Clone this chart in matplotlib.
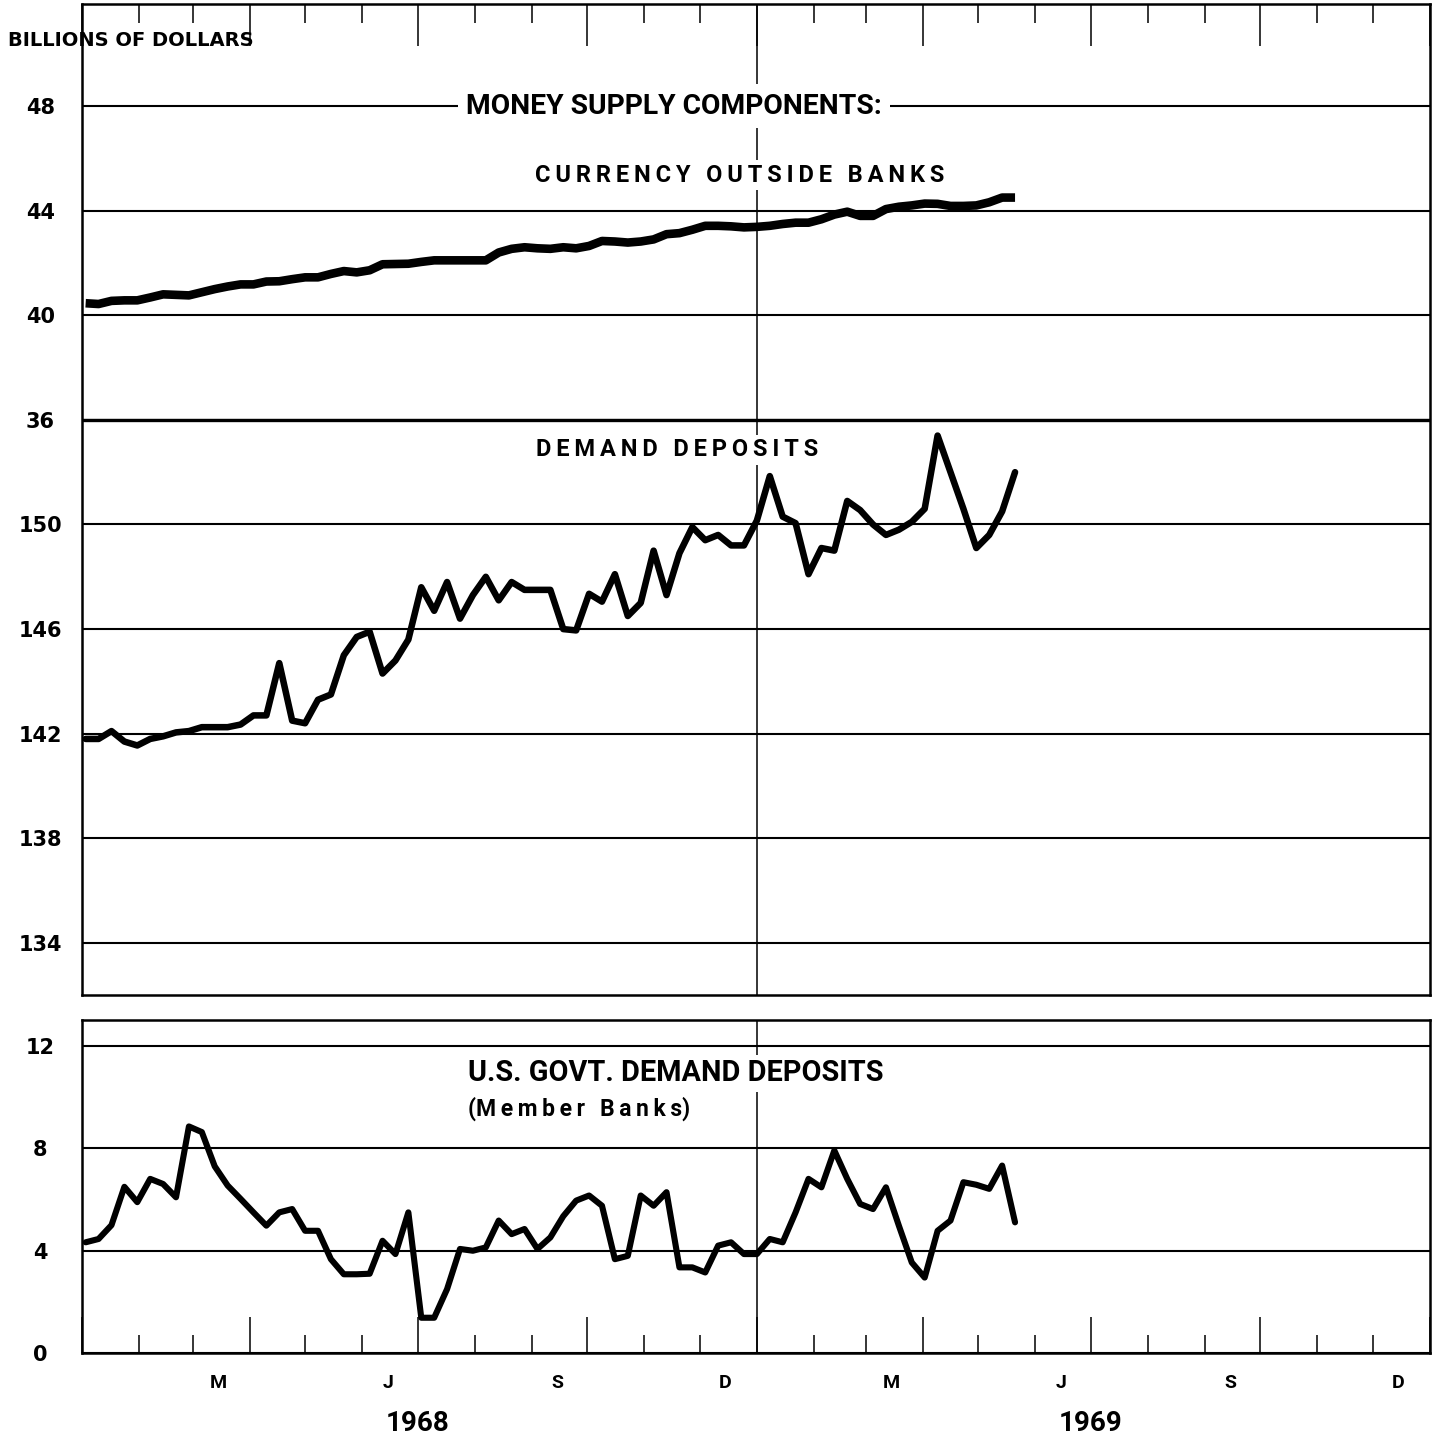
import matplotlib
matplotlib.use("Agg")
import matplotlib.pyplot as plt
import matplotlib.dates as mdates
import pandas as pd

# weekly averages, billions of dollars (first week of Jan 1968 to May 1969)
weeks = pd.date_range("1968-01-03", periods=73, freq="7D")

currency = [40.46, 40.43, 40.55, 40.57, 40.57, 40.68, 40.80, 40.78, 40.76, 40.88,
            41.00, 41.10, 41.18, 41.18, 41.29, 41.30, 41.38, 41.45, 41.45, 41.58,
            41.69, 41.64, 41.72, 41.95, 41.96, 41.97, 42.04, 42.10, 42.10, 42.10,
            42.10, 42.10, 42.40, 42.54, 42.60, 42.56, 42.54, 42.60, 42.56, 42.65,
            42.84, 42.82, 42.78, 42.82, 42.90, 43.10, 43.14, 43.27, 43.42, 43.42,
            43.40, 43.36, 43.38, 43.42, 43.49, 43.54, 43.54, 43.67, 43.85, 43.96,
            43.80, 43.80, 44.06, 44.15, 44.20, 44.27, 44.26, 44.18, 44.18, 44.20,
            44.32, 44.50, 44.50]

demand = [141.8, 141.8, 142.1, 141.7, 141.55, 141.8, 141.9, 142.05, 142.1, 142.25,
          142.25, 142.25, 142.35, 142.7, 142.7, 144.7, 142.5, 142.4, 143.3, 143.5,
          145.0, 145.7, 145.9, 144.3, 144.8, 145.6, 147.6, 146.7, 147.8, 146.4,
          147.3, 148.0, 147.1, 147.8, 147.5, 147.5, 147.5, 146.0, 145.95, 147.35,
          147.05, 148.1, 146.5, 147.0, 149.0, 147.3, 148.9, 149.9, 149.4, 149.6,
          149.2, 149.2, 150.15, 151.85, 150.3, 150.05, 148.1, 149.1, 149.0, 150.9,
          150.55, 150.0, 149.6, 149.8, 150.1, 150.6, 153.4, 152.0, 150.6, 149.1,
          149.6, 150.5, 152.0]

govt = [4.33, 4.46, 5.00, 6.50, 5.90, 6.81, 6.61, 6.09, 8.86, 8.64,
        7.30, 6.55, 6.03, 5.50, 4.98, 5.50, 5.63, 4.78, 4.78, 3.67,
        3.08, 3.08, 3.10, 4.39, 3.87, 5.50, 1.38, 1.38, 2.50, 4.07,
        4.00, 4.13, 5.18, 4.65, 4.85, 4.07, 4.52, 5.35, 5.96, 6.16,
        5.76, 3.67, 3.80, 6.16, 5.76, 6.29, 3.35, 3.35, 3.15, 4.20,
        4.33, 3.87, 3.87, 4.46, 4.33, 5.50, 6.81, 6.48, 7.92, 6.81,
        5.83, 5.63, 6.48, 4.98, 3.54, 2.95, 4.78, 5.18, 6.68, 6.58,
        6.42, 7.33, 5.11]

# upper panel: demand deposits drawn on the currency scale, shifted by 118
shift = 118
upper_ticks = [48, 44, 40, 36, 32, 28, 24, 20, 16]
upper_labels = ["48", "44", "40", "36", "150", "146", "142", "138", "134"]
lower_ticks = [12, 8, 4, 0]
lower_labels = ["12", "8", "4", "0"]

month_letters = ["M", "J", "S", "D", "M", "J", "S", "D"]
month_dates = pd.to_datetime(["1968-03-15", "1968-06-15", "1968-09-15", "1968-12-15",
                              "1969-03-15", "1969-06-15", "1969-09-15", "1969-12-15"])
years = ["1968", "1969"]
year_dates = pd.to_datetime(["1968-07-01", "1969-07-01"])

head = ["Roboto", "DejaVu Sans"]


def spaced(s):
    # letter-spaced caption: thin space between letters, wider gap between words
    return "\u2009 \u2009".join("\u2009".join(w) for w in s.split(" "))


fig = plt.figure(figsize=(14.38, 14.42), dpi=100)
ax1 = fig.add_axes([0.0570, 0.3100, 0.9374, 0.6872])
ax2 = fig.add_axes([0.0570, 0.0617, 0.9374, 0.2309])

x0 = pd.Timestamp("1968-01-01")
x1 = pd.Timestamp("1970-01-01")
split = pd.Timestamp("1969-01-01")

for ax in (ax1, ax2):
    ax.set_xlim(x0, x1)
    ax.xaxis.set_major_locator(mdates.MonthLocator(bymonth=[1, 4, 7, 10]))
    ax.xaxis.set_minor_locator(mdates.MonthLocator())
    ax.grid(axis="y", color="black", linewidth=1.5)
    ax.set_axisbelow(True)
    for s in ax.spines.values():
        s.set_linewidth(1.8)
    ax.axvline(split, color="black", linewidth=1.1, zorder=1)
    ax.tick_params(axis="y", length=0, pad=30, labelsize=15)

ax1.set_ylim(14.01, 51.9)
ax1.set_yticks(upper_ticks, upper_labels)
ax1.tick_params(axis="x", which="both", top=True, bottom=False, direction="in",
                labelbottom=False, width=1.1)
ax1.tick_params(axis="x", which="major", length=30)
ax1.tick_params(axis="x", which="minor", length=14)
ax1.axhline(36, color="black", linewidth=2.4, zorder=1)

ax2.set_ylim(0, 13.02)
ax2.set_yticks(lower_ticks, lower_labels)
ax2.tick_params(axis="x", which="both", top=False, bottom=True, direction="in",
                labelbottom=False, width=1.1)
ax2.tick_params(axis="x", which="major", length=26)
ax2.tick_params(axis="x", which="minor", length=13)

for ax in (ax1, ax2):
    for lbl in ax.get_yticklabels():
        lbl.set_horizontalalignment("center")
        lbl.set_fontweight("bold")

ax1.plot(weeks, currency, color="black", linewidth=6.2,
         solid_joinstyle="round", solid_capstyle="butt", zorder=4)
ax1.plot(weeks, [v - shift for v in demand], color="black", linewidth=4.7,
         solid_joinstyle="round", solid_capstyle="round", zorder=4)
ax2.plot(weeks, govt, color="black", linewidth=4.4,
         solid_joinstyle="round", solid_capstyle="round", zorder=4)

white = dict(boxstyle="square,pad=0.3", facecolor="white", edgecolor="none")
tight = dict(boxstyle="square,pad=0.15", facecolor="white", edgecolor="none")

ax1.text(0.4392, 48, "MONEY SUPPLY COMPONENTS:", transform=ax1.get_yaxis_transform(),
         ha="center", va="center", fontsize=20.3, fontweight="bold", family=head,
         bbox=white, zorder=5)
ax1.text(0.488, 45.36, spaced("CURRENCY OUTSIDE BANKS"),
         transform=ax1.get_yaxis_transform(), ha="center", va="center",
         fontsize=17, fontweight="bold", family=head, bbox=tight, zorder=5)
ax1.text(0.4414, 34.85, spaced("DEMAND DEPOSITS"),
         transform=ax1.get_yaxis_transform(), ha="center", va="center",
         fontsize=17, fontweight="bold", family=head, bbox=tight, zorder=5)

ax2.text(0.2864, 10.94, "U.S. GOVT. DEMAND DEPOSITS", transform=ax2.get_yaxis_transform(),
         ha="left", va="center", fontsize=20.8, fontweight="bold", family=head,
         bbox=tight, zorder=5)
ax2.text(0.2864, 9.55, "(" + spaced("Member Banks") + ")", transform=ax2.get_yaxis_transform(),
         ha="left", va="center", fontsize=16.5, fontweight="bold", family=head,
         bbox=tight, zorder=5)

for d, m in zip(month_dates, month_letters):
    ax2.text(d, -0.0896, m, transform=ax2.get_xaxis_transform(), ha="center",
             va="center", fontsize=14, fontweight="bold", family=head)
for d, y in zip(year_dates, years):
    ax2.text(d, -0.212, y, transform=ax2.get_xaxis_transform(), ha="center",
             va="center", fontsize=20, fontweight="bold", family=head)

fig.text(8 / 1438, 1 - 41 / 1442, "BILLIONS OF DOLLARS", ha="left", va="center",
         fontsize=14, fontweight="bold", family="DejaVu Sans")

fig.savefig("out.png", dpi=100, facecolor="white")
